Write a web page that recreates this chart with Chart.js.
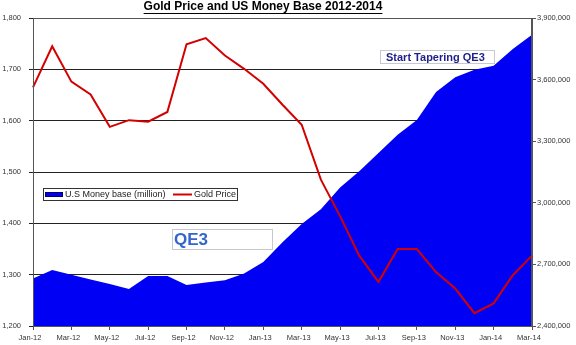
<!DOCTYPE html>
<html>
<head>
<meta charset="utf-8">
<script src="https://cdn.jsdelivr.net/npm/chart.js@4/dist/chart.umd.min.js"></script>
<style>
  html, body { margin: 0; padding: 0; background: #fff; }
  #wrap { width: 576px; height: 345px; position: relative; }
  canvas { display: block; }
</style>
</head>
<body>
<div id="wrap"><canvas id="goldChart" width="576" height="345"></canvas></div>
<script>
// monthly data, Jan-12 .. Mar-14
const months = ['Jan-12','Feb-12','Mar-12','Apr-12','May-12','Jun-12','Jul-12','Aug-12','Sep-12','Oct-12','Nov-12','Dec-12',
  'Jan-13','Feb-13','Mar-13','Apr-13','May-13','Jun-13','Jul-13','Aug-13','Sep-13','Oct-13','Nov-13','Dec-13',
  'Jan-14','Feb-14','Mar-14'];
const goldPrice = [1665, 1745, 1676, 1651, 1588, 1601, 1598, 1617, 1749, 1761, 1727, 1701,
  1672, 1631, 1592, 1485, 1414, 1337, 1286, 1350, 1350, 1305, 1273, 1225,
  1244, 1299, 1337];
const moneyBase = [2631000, 2673000, 2650000, 2627000, 2604000, 2580000, 2643000, 2643000, 2600000, 2612000, 2623000, 2656000,
  2712000, 2808000, 2897000, 2969000, 3074000, 3154000, 3242000, 3331000, 3403000, 3540000, 3612000, 3648000,
  3668000, 3749000, 3818000];
const goldTicks = [1200, 1300, 1400, 1500, 1600, 1700, 1800];
const baseTicks = [2400000, 2700000, 3000000, 3300000, 3600000, 3900000];

const FONT = 'Arial, "Liberation Sans", sans-serif';
const fmt = v => Number(v).toLocaleString('en-US');

// title, legend and the two note boxes
const extras = {
  id: 'extras',
  afterDraw(chart) {
    const ctx = chart.ctx;
    const a = chart.chartArea;
    ctx.save();

    // plot border
    ctx.strokeStyle = '#555';
    ctx.lineWidth = 1;
    ctx.strokeRect(a.left + 0.5, a.top + 0.5, a.right - a.left - 1, a.bottom - a.top);

    // title
    ctx.fillStyle = '#000';
    ctx.font = 'bold 12px ' + FONT;
    ctx.textAlign = 'center';
    ctx.textBaseline = 'middle';
    const title = 'Gold Price and US Money Base 2012-2014';
    ctx.fillText(title, 263, 7);
    const tw = ctx.measureText(title).width;
    ctx.fillRect(263 - tw / 2, 13, tw, 1);

    // legend
    ctx.fillStyle = '#fff';
    ctx.fillRect(43, 188, 194, 12);
    ctx.strokeStyle = '#333';
    ctx.strokeRect(43.5, 188.5, 194, 12);
    ctx.fillStyle = '#0000ee';
    ctx.fillRect(45, 192, 18, 5);
    ctx.strokeStyle = '#000066';
    ctx.strokeRect(45.5, 192.5, 17, 4);
    ctx.strokeStyle = '#d40000';
    ctx.lineWidth = 2;
    ctx.beginPath();
    ctx.moveTo(173, 194.5);
    ctx.lineTo(192, 194.5);
    ctx.stroke();
    ctx.fillStyle = '#222';
    ctx.font = '9px ' + FONT;
    ctx.textAlign = 'left';
    ctx.fillText('U.S Money base (million)', 65, 194.5);
    ctx.fillText('Gold Price', 194, 194.5);

    // QE3 box
    ctx.lineWidth = 1;
    ctx.fillStyle = '#fff';
    ctx.fillRect(172, 229, 100, 21);
    ctx.strokeStyle = '#c8c8d0';
    ctx.strokeRect(172.5, 229.5, 100, 20);
    ctx.fillStyle = '#3366cc';
    ctx.font = 'bold 17px ' + FONT;
    ctx.fillText('QE3', 174, 240.5);

    // Start Tapering box
    ctx.fillStyle = '#fff';
    ctx.fillRect(380, 50, 114, 14);
    ctx.strokeStyle = '#c8c8d0';
    ctx.strokeRect(380.5, 50.5, 114, 13);
    ctx.fillStyle = '#1e1e8c';
    ctx.font = 'bold 11px ' + FONT;
    ctx.fillText('Start Tapering QE3', 386, 57.5);

    ctx.restore();
  }
};

new Chart(document.getElementById('goldChart'), {
  type: 'line',
  data: {
    labels: months,
    datasets: [
      {
        label: 'U.S Money base (million)',
        data: moneyBase,
        yAxisID: 'y1',
        fill: 'start',
        backgroundColor: '#0000f5',
        borderColor: '#0000f5',
        borderWidth: 0,
        pointRadius: 0,
        tension: 0,
        order: 2
      },
      {
        label: 'Gold Price',
        data: goldPrice,
        yAxisID: 'y',
        fill: false,
        borderColor: '#d40000',
        borderWidth: 2,
        pointRadius: 0,
        tension: 0,
        order: 1
      }
    ]
  },
  options: {
    responsive: false,
    animation: false,
    maintainAspectRatio: false,
    layout: { padding: { top: 18, left: 0, right: 0, bottom: 0 } },
    plugins: { legend: { display: false }, tooltip: { enabled: false } },
    scales: {
      x: {
        offset: false,
        grid: { drawOnChartArea: false, color: '#555', tickLength: 4 },
        border: { color: '#555' },
        afterFit(s) { s.height = 19; },
        ticks: {
          autoSkip: false,
          maxRotation: 0,
          padding: 3,
          labelOffset: -3,
          color: '#333',
          font: { family: FONT, size: 7.5 },
          callback(v, i) { return i % 2 === 0 ? months[i] : null; }
        }
      },
      y: {
        position: 'left',
        min: 1200,
        max: 1800,
        afterBuildTicks(s) { s.ticks = goldTicks.map(v => ({ value: v })); },
        afterFit(s) { s.width = 33; },
        grid: { color: '#222', lineWidth: 1, tickLength: 4 },
        border: { color: '#555' },
        ticks: {
          padding: 8,
          color: '#333',
          font: { family: FONT, size: 7.5 },
          callback: v => fmt(v)
        }
      },
      y1: {
        position: 'right',
        min: 2400000,
        max: 3900000,
        afterBuildTicks(s) { s.ticks = baseTicks.map(v => ({ value: v })); },
        afterFit(s) { s.width = 44; },
        grid: { drawOnChartArea: false, color: '#555', tickLength: 4 },
        border: { color: '#555' },
        ticks: {
          padding: 1,
          color: '#333',
          font: { family: FONT, size: 7.5 },
          callback: v => fmt(v)
        }
      }
    }
  },
  plugins: [extras]
});
</script>
</body>
</html>
